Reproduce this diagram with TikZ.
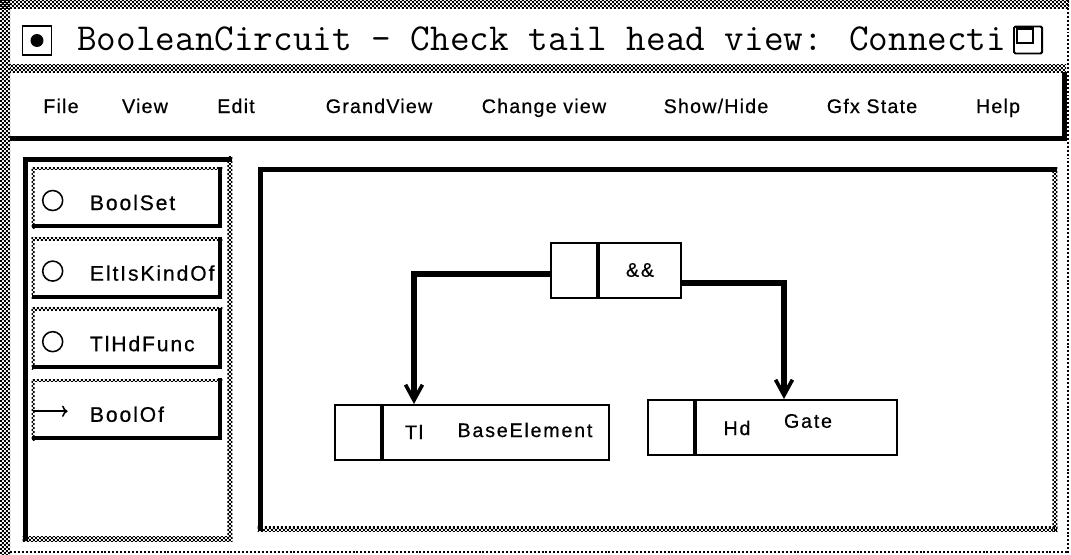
\documentclass[tikz,border=0pt]{standalone}
\usepackage{fontspec}
\newfontfamily\uifont[LetterSpace=6, FakeBold=0.6]{Liberation Sans}
\newfontfamily\btnfont[LetterSpace=9, FakeBold=0.6]{Liberation Sans}
\usetikzlibrary{calc, positioning, arrows.meta, patterns.meta}

% 2x2 pixel checker used for the window frames
\tikzdeclarepattern{
  name=checks,
  tile size={(2.84pt,2.84pt)},
  bottom left={(0pt,0pt)},
  top right={(2.84pt,2.84pt)},
  code={
    \pgfpathrectangle{\pgfpointorigin}{\pgfpoint{1.42pt}{1.42pt}}
    \pgfpathrectangle{\pgfpoint{1.42pt}{1.42pt}}{\pgfpoint{1.42pt}{1.42pt}}
    \pgfusepath{fill}
  }
}

% raised frame: checkered top/left, black bottom/right
\newcommand{\raisedframe}[1]{%
  \fill[pattern=checks] (#1.north west) rectangle ($(#1.north east)+(0,3)$);
  \fill[pattern=checks] (#1.north west) rectangle ($(#1.south west)+(3,0)$);
  \fill (#1.south west) rectangle ($(#1.south east)+(0,-4)$);
  \fill (#1.north east) rectangle ($(#1.south east)+(-4,0)$);
}
% sunken frame: black top/left, checkered bottom/right
\newcommand{\sunkenframe}[1]{%
  \fill (#1.north west) rectangle ($(#1.north east)+(0,5)$);
  \fill (#1.north west) rectangle ($(#1.south west)+(5,0)$);
  \fill[pattern=checks] (#1.south west) rectangle ($(#1.south east)+(0,-5)$);
  \fill[pattern=checks] (#1.north east) rectangle ($(#1.south east)+(-5,0)$);
}

\begin{document}
\begin{tikzpicture}[x=0.025cm, y=-0.025cm,
    menu/.style={anchor=base, inner sep=0pt, font=\uifont\fontsize{14}{16}\selectfont},
    button/.style={rectangle, minimum width=4.75cm, minimum height=1.525cm, inner sep=0pt},
    radio/.style={circle, draw, line width=1.1pt, minimum size=0.5cm, inner sep=0pt},
    btntext/.style={anchor=west, inner sep=0pt, font=\btnfont\fontsize{15}{17}\selectfont},
    classbox/.style={rectangle, draw, line width=1.4pt, minimum height=1.375cm, inner sep=0pt},
    divider/.style={line width=3pt},
    dtext/.style={inner sep=0pt, font=\btnfont\fontsize{14}{16}\selectfont},
    dotline/.style={line width=1.4pt, dash pattern=on 1.4pt off 1.4pt},
    conn/.style={line width=3.6pt, -{Straight Barb[length=11pt,width=12pt,line width=2.6pt]}}]
    \useasboundingbox (0,0) rectangle (1071,554);
    \fill[white] (0,0) rectangle (1071,554);

    % Window frame
    \fill[pattern=checks] (0,0) rectangle (10,554);
    \fill[pattern=checks] (0,0) rectangle (1069,8);
    \fill[pattern=checks] (10,64) rectangle (1066,72);
    \draw[dotline] (1068,0) -- (1068,554);
    \draw[dotline] (10,552) -- (1068,552);

    % Title bar
    \node (wicon) [rectangle, draw, line width=1.4pt, minimum size=0.725cm, inner sep=0pt] at (37,40.5) {};
    \fill (wicon.center) circle (4.6pt);
    \node (title) [anchor=base west, inner sep=0pt, font=\ttfamily\addfontfeatures{FakeBold=1.2}\fontsize{27.1}{30}\selectfont] at (77,50) {BooleanCircuit - Check tail head view: Connecti};
    \node (zicon) [rectangle, draw, fill=white, line width=1.4pt, minimum width=0.7cm, minimum height=0.675cm, inner sep=0pt, rounded corners=1pt] at (1028,40) {};
    \draw[line width=1.8pt] ($(zicon.north west)+(4,3)$) rectangle ($(zicon.center)+(5,3)$);

    % Menu bar
    \node (menubar) [rectangle, minimum width=26.425cm, minimum height=1.725cm, inner sep=0pt] at (538.5,106.5) {};
    \fill ($(menubar.south west)+(0,-5)$) rectangle (menubar.south east);
    \fill ($(menubar.north east)+(-5,0)$) rectangle (menubar.south east);
    \node (mfile) [menu] at (61,113) {File};
    \node (mview) [menu] at (145,113) {View};
    \node (medit) [menu] at (236,113) {Edit};
    \node (mgrand) [menu] at (379,113) {GrandView};
    \node (mchange) [menu] at (544,113) {Change view};
    \node (mshow) [menu] at (716,113) {Show/Hide};
    \node (mgfx) [menu] at (872,113) {Gfx State};
    \node (mhelp) [menu] at (998,113) {Help};

    % Left panel with buttons
    \node (panel) [rectangle, minimum width=5.225cm, minimum height=9.6cm, inner sep=0pt] at (127.5,349) {};
    \sunkenframe{panel}
    \node (bset) [button] at (127,197.5) {};
    \node (bkind) [button, below=0.225cm of bset] {};
    \node (bfunc) [button, below=0.225cm of bkind] {};
    \node (bof) [button, below=0.225cm of bfunc] {};
    \raisedframe{bset}
    \raisedframe{bkind}
    \raisedframe{bfunc}
    \raisedframe{bof}
    \node (rset) [radio] at ($(bset.west)+(21,3)$) {};
    \node (rkind) [radio] at ($(bkind.west)+(21,3)$) {};
    \node (rfunc) [radio] at ($(bfunc.west)+(21,3)$) {};
    \node (tset) [btntext] at ($(bset.west)+(58,5)$) {BoolSet};
    \node (tkind) [btntext] at ($(bkind.west)+(58,5)$) {EltIsKindOf};
    \node (tfunc) [btntext] at ($(bfunc.west)+(58,5)$) {TlHdFunc};
    \node (tof) [btntext] at ($(bof.west)+(58,5)$) {BoolOf};
    \draw[line width=1.1pt, -{To[length=4pt,width=8pt]}] ($(bof.west)+(1,2)$) -- ($(bof.west)+(36,2)$);

    % Canvas
    \node (canvas) [rectangle, minimum width=19.975cm, minimum height=9.1cm, inner sep=0pt] at (657.5,349) {};
    \sunkenframe{canvas}

    % Nodes
    \node (andop) [classbox, minimum width=3.25cm] at (616,270.5) {};
    \draw[divider] ($(andop.north west)+(48,0)$) -- ($(andop.south west)+(48,0)$);
    \node (andlbl) [dtext] at (640,270) {\&\&};

    \node (base) [classbox, minimum width=6.85cm] at (472,432.5) {};
    \draw[divider] ($(base.north west)+(48,0)$) -- ($(base.south west)+(48,0)$);
    \node (tl) [dtext] at (414,432) {Tl};
    \node (basename) [dtext] at (525,430) {BaseElement};

    \node (gate) [classbox, minimum width=6.225cm] at (772.5,427.5) {};
    \draw[divider] ($(gate.north west)+(48,0)$) -- ($(gate.south west)+(48,0)$);
    \node (hd) [dtext] at (737,428) {Hd};
    \node (gatename) [dtext] at (808,421) {Gate};

    % Arrows
    \draw[conn] ($(andop.west)+(0,3.5)$) -| (tl.north |- base.north);
    \draw[conn] ($(andop.east)+(0,12.5)$) -| ($(gate.north west)+(137,0)$);
\end{tikzpicture}
\end{document}
